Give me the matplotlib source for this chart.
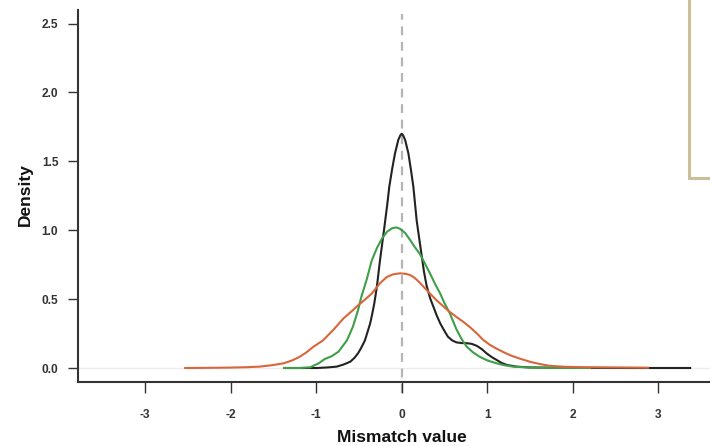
import numpy as np
import matplotlib.pyplot as plt
from matplotlib.patches import Rectangle

plt.rcParams['font.family'] = ['Liberation Sans', 'DejaVu Sans']

# density curves
black_x = [-1.37, -1.2, -0.99, -0.87, -0.76, -0.68, -0.60, -0.55, -0.51, -0.47, -0.43, -0.40,
           -0.37, -0.345, -0.32, -0.29, -0.254, -0.207, -0.17, -0.145, -0.11, -0.078, -0.04, -0.015,
           0.0, 0.015, 0.04, 0.078, 0.11, 0.136, 0.175, 0.2, 0.23, 0.26, 0.29, 0.33, 0.37, 0.41,
           0.45, 0.50, 0.54, 0.59, 0.64, 0.70, 0.76, 0.82, 0.88, 0.94, 0.99, 1.05, 1.11, 1.17,
           1.23, 1.34, 1.5, 1.8, 2.2, 2.7, 3.1, 3.37]
black_y = [0.0, 0.0, 0.0, 0.004, 0.01, 0.025, 0.046, 0.075, 0.107, 0.15, 0.20, 0.26,
           0.32, 0.39, 0.47, 0.59, 0.78, 1.0, 1.18, 1.316, 1.45, 1.558, 1.655, 1.69,
           1.70, 1.69, 1.655, 1.558, 1.43, 1.316, 1.07, 0.96, 0.83, 0.70, 0.60, 0.51, 0.445, 0.38,
           0.324, 0.268, 0.227, 0.20, 0.186, 0.181, 0.18, 0.175, 0.16, 0.135, 0.107, 0.08, 0.058, 0.036,
           0.022, 0.01, 0.004, 0.002, 0.001, 0.0, 0.0, 0.0]

green_x = [-1.37, -1.2, -1.07, -0.97, -0.90, -0.82, -0.74, -0.64, -0.57, -0.51, -0.47, -0.41,
           -0.35, -0.29, -0.23, -0.17, -0.11, -0.06, -0.02, 0.04, 0.097, 0.15, 0.21, 0.27,
           0.33, 0.39, 0.45, 0.50, 0.56, 0.60, 0.64, 0.70, 0.76, 0.83, 0.91, 1.0, 1.11, 1.20,
           1.30, 1.5, 1.8, 2.2]
green_y = [0.0, 0.0, 0.005, 0.034, 0.065, 0.085, 0.118, 0.20, 0.30, 0.42, 0.52, 0.64,
           0.78, 0.87, 0.94, 0.99, 1.015, 1.02, 1.01, 0.98, 0.93, 0.88, 0.83, 0.76,
           0.687, 0.61, 0.54, 0.47, 0.40, 0.34, 0.28, 0.21, 0.155, 0.115, 0.082, 0.055, 0.034, 0.02,
           0.01, 0.003, 0.001, 0.0]

orange_x = [-2.53, -2.3, -2.0, -1.8, -1.66, -1.52, -1.38, -1.28, -1.19, -1.11, -1.03, -0.92,
            -0.80, -0.68, -0.57, -0.50, -0.45, -0.35, -0.254, -0.175, -0.10, -0.02, 0.05, 0.097,
            0.15, 0.21, 0.27, 0.33, 0.41, 0.49, 0.56, 0.64, 0.72, 0.80, 0.88, 0.95, 1.03, 1.11,
            1.19, 1.27, 1.38, 1.5, 1.62, 1.73, 1.9, 2.1, 2.4, 2.7, 2.88]
orange_y = [0.0, 0.001, 0.003, 0.006, 0.01, 0.02, 0.034, 0.055, 0.082, 0.115, 0.155, 0.20,
            0.276, 0.36, 0.42, 0.46, 0.485, 0.54, 0.615, 0.66, 0.68, 0.687, 0.683, 0.675,
            0.655, 0.62, 0.58, 0.54, 0.49, 0.445, 0.408, 0.37, 0.335, 0.295, 0.25, 0.205, 0.168, 0.14,
            0.115, 0.092, 0.068, 0.045, 0.028, 0.016, 0.009, 0.006, 0.004, 0.003, 0.002]

yticks = [0.0, 0.5, 1.0, 1.5, 2.0, 2.5]
xticks = [-3, -2, -1, 0, 1, 2, 3]

axis_col = '#333333'

fig = plt.figure(figsize=(7.1, 4.46), dpi=100)
ax = fig.add_axes([78 / 710, 1 - 381.7 / 446, 1 - 78 / 710, (381.7 - 10) / 446])
ax.set_xlim(-3.782, 3.602)
ax.set_ylim(-0.0994, 2.598)

# faint zero line and dashed line at 0
ax.axhline(0, color='#ececec', lw=1, zorder=1)
ax.plot([0, 0], [-0.181, 2.569], color='#b5b5b5', lw=1.6, ls=(0, (4, 3)),
        clip_on=False, zorder=1)

ax.plot(black_x, black_y, color='#222222', lw=1.5, zorder=3)
ax.plot(green_x, green_y, color='#3f9e48', lw=1.5, zorder=4)
ax.plot(orange_x, orange_y, color='#d8663a', lw=1.5, zorder=5)

for s in ['top', 'right']:
    ax.spines[s].set_visible(False)
for s in ['left', 'bottom']:
    ax.spines[s].set_color(axis_col)
    ax.spines[s].set_linewidth(1.5)

ax.set_yticks(yticks)
ax.set_yticklabels(['%.1f' % v for v in yticks])
ax.set_xticks(xticks)
ax.set_xticklabels([str(v) for v in xticks])
ax.tick_params(axis='y', length=7.2, width=1.0, color=axis_col, pad=7,
               labelsize=8.6, labelcolor=axis_col)
ax.tick_params(axis='x', length=8, width=1.0, color=axis_col, pad=11.5,
               labelsize=8.6, labelcolor=axis_col)
for lab in ax.get_xticklabels() + ax.get_yticklabels():
    lab.set_fontweight('bold')

fig.text(25 / 710, 1 - 195 / 446, 'Density', rotation=90, ha='center', va='center',
         fontsize=12.5, fontweight='bold', color='#111111')
fig.text(401.5 / 710, 1 - 437 / 446, 'Mismatch value', ha='center', va='center',
         fontsize=12.5, fontweight='bold', color='#111111')

# legend frame, cut off at the top right corner
fig.patches.append(Rectangle((689 / 710, 1 - 178 / 446), 0.2, 0.6, transform=fig.transFigure,
                             facecolor='white', edgecolor='#c9c09b', lw=2.2, zorder=10))

fig.savefig('out.png', dpi=100)
